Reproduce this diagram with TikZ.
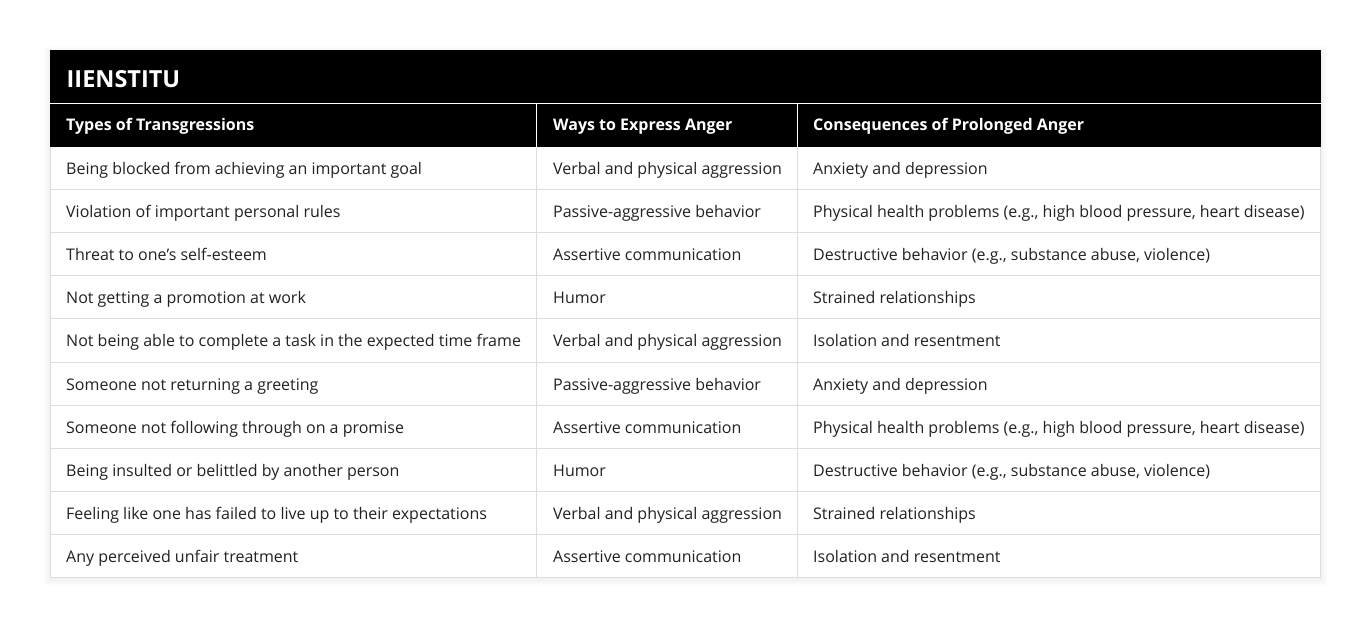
\documentclass[tikz,border=0pt]{standalone}
\usepackage{fontspec}
\setmainfont{Open Sans}
\definecolor{gridc}{HTML}{DDDDDD}
\definecolor{txt}{HTML}{222222}
\begin{document}
\begin{tikzpicture}[x=1pt,y=-1pt,
  cell/.style={anchor=base west,inner sep=0pt,font=\fontsize{16}{19}\selectfont,text=txt},
  head/.style={anchor=base west,inner sep=0pt,font=\fontsize{16}{19}\selectfont\bfseries,text=white},
  title/.style={anchor=base west,inner sep=0pt,font=\fontsize{23.5}{28}\selectfont\bfseries,text=white}]
\useasboundingbox (0,0) rectangle (1371,628);
\fill[white] (0,0) rectangle (1371,628);
% shadow
\foreach \i in {6,5,4,3,2,1}{
  \fill[black,opacity=0.008] (50-\i,50-\i+2) rectangle (1320.5+\i,577.5+\i+2);}
\fill[white] (50,50) rectangle (1320.5,577.5);
% black header areas
\fill[black] (50,50) rectangle (1320.5,147);
\draw[white,line width=1pt] (50,104) -- (1320.5,104);
\draw[white,line width=1pt] (536.5,104) -- (536.5,147);
\draw[white,line width=1pt] (797.5,104) -- (797.5,147);
% grid
\foreach \y in {190,233,276,319,362,405,448,491,534}{
  \draw[gridc,line width=1pt] (50,\y) -- (1320.5,\y);}
\draw[gridc,line width=1pt] (536.5,147) -- (536.5,577.5);
\draw[gridc,line width=1pt] (797.5,147) -- (797.5,577.5);
\draw[gridc,line width=1pt] (50,147) -- (50,577.5) -- (1320.5,577.5) -- (1320.5,147);
% texts
\node[title] (t) at (66.5,87.3) {IIENSTITU};
\node[head] (h1) at (66,131) {Types of Transgressions};
\node[head] (h2) at (553,131) {Ways to Express Anger};
\node[head] (h3) at (813,131) {Consequences of Prolonged Anger};
\foreach \y/\a/\b/\c [count=\n] in {
 175/{Being blocked from achieving an important goal}/{Verbal and physical aggression}/{Anxiety and depression},
 218/{Violation of important personal rules}/{Passive-aggressive behavior}/{Physical health problems (e.g., high blood pressure, heart disease)},
 261/{Threat to one’s self-esteem}/{Assertive communication}/{Destructive behavior (e.g., substance abuse, violence)},
 304/{Not getting a promotion at work}/{Humor}/{Strained relationships},
 347/{Not being able to complete a task in the expected time frame}/{Verbal and physical aggression}/{Isolation and resentment},
 390/{Someone not returning a greeting}/{Passive-aggressive behavior}/{Anxiety and depression},
 433/{Someone not following through on a promise}/{Assertive communication}/{Physical health problems (e.g., high blood pressure, heart disease)},
 476/{Being insulted or belittled by another person}/{Humor}/{Destructive behavior (e.g., substance abuse, violence)},
 519/{Feeling like one has failed to live up to their expectations}/{Verbal and physical aggression}/{Strained relationships},
 562/{Any perceived unfair treatment}/{Assertive communication}/{Isolation and resentment}}{
  \node[cell] (a\n) at (66,\y) {\a};
  \node[cell] (b\n) at (553,\y) {\b};
  \node[cell] (c\n) at (813,\y) {\c};
}
\end{tikzpicture}
\end{document}
